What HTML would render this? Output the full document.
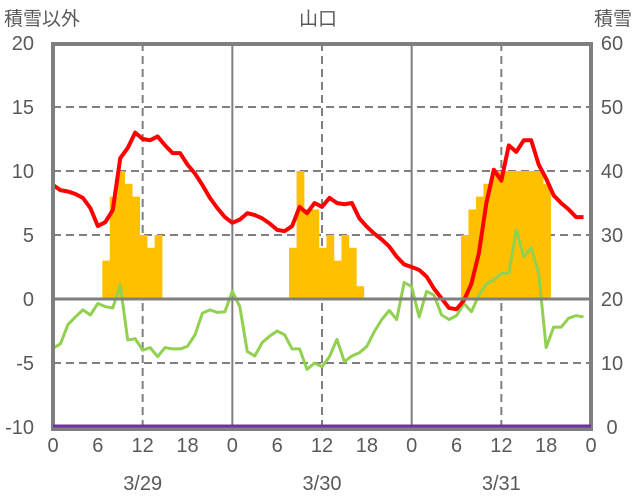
<!DOCTYPE html>
<html><head><meta charset="utf-8"><style>
body{margin:0;background:#fff;}
svg{display:block;font-family:"Liberation Sans","Noto Sans CJK JP",sans-serif;}
</style></head><body>
<svg id="chart" width="636" height="501" viewBox="0 0 636 501">
<g id="grid"></g><g id="bars"></g><g id="lines"></g><g id="frame"></g><g id="top"></g><g id="labels"></g>
</svg>
<script>
const hours = Array.from({length:72},(_,i)=>i);
const purpleHours = Array.from({length:73},(_,i)=>i);
const dayLabels = ["3/29","3/30","3/31"];
const hourTicks = ["0","6","12","18","0","6","12","18","0","6","12","18","0"];
const leftTicks = [20,15,10,5,0,-5,-10];
const rightTicks = [60,50,40,30,20,10,0];
const snowHours = [7,8,9,10,11,12,13,14,32,33,34,35,36,37,38,39,40,41,55,56,57,58,59,60,61,62,63,64,65,66];
const snowDepth = [26,36,40,38,36,30,28,30,28,40,34,34,28,30,26,30,28,22,30,34,36,38,40,40,40,40,40,40,40,38];
const redSeries = [8.9,8.5,8.4,8.2,7.9,7.1,5.7,6.0,6.95,11.0,11.8,13.0,12.5,12.4,12.7,12.0,11.4,11.4,10.5,9.8,8.9,7.9,7.1,6.4,
5.95,6.2,6.7,6.56,6.3,5.9,5.4,5.3,5.7,7.2,6.7,7.5,7.2,7.9,7.5,7.4,7.5,6.3,5.65,5.1,4.65,4.1,3.3,2.7,
2.5,2.27,1.75,0.8,0.05,-0.7,-0.8,-0.1,1.2,3.6,7.5,10.1,9.25,12.0,11.5,12.4,12.4,10.5,9.4,8.1,7.5,7.0,6.4,6.4];
const greenSeries = [-3.85,-3.5,-2.0,-1.4,-0.85,-1.25,-0.35,-0.6,-0.7,1.1,-3.2,-3.1,-4.0,-3.8,-4.5,-3.8,-3.9,-3.9,-3.7,-2.8,-1.1,-0.85,-1.05,-1.0,
0.6,-0.6,-4.1,-4.45,-3.4,-2.9,-2.5,-2.8,-3.9,-3.9,-5.5,-5.0,-5.3,-4.5,-3.15,-4.9,-4.45,-4.2,-3.7,-2.55,-1.6,-0.9,-1.6,1.3,
0.96,-1.4,0.6,0.3,-1.25,-1.6,-1.3,-0.35,-1.0,0.3,1.2,1.5,2.0,2.0,5.4,3.3,4.0,2.0,-3.8,-2.2,-2.2,-1.5,-1.3,-1.4];
const purpleSeries = purpleHours.map(()=>-10);

const X0=53,X1=591,Y0=43,Y1=427;
const xs=h=>X0+h*(X1-X0)/72;
const yL=v=>Y1-(v+10)*(Y1-Y0)/30;
const yR=v=>Y1-v*(Y1-Y0)/60;
const NS="http://www.w3.org/2000/svg";
function mk(tag,attrs,parent){const e=document.createElementNS(NS,tag);for(const k in attrs)e.setAttribute(k,attrs[k]);document.getElementById(parent).appendChild(e);return e;}
const gray="#7f7f7f", txt="#595959";
[15,10,5,-5].forEach(v=>{const l=mk("line",{x1:X0,x2:X1,y1:yL(v),y2:yL(v),stroke:gray,"stroke-width":2,"stroke-dasharray":"8,5"},"grid");

});
[12,36,60].forEach(h=>{const l=mk("line",{x1:xs(h),x2:xs(h),y1:Y0,y2:Y1,stroke:gray,"stroke-width":2,"stroke-dasharray":"8,5"},"grid");

});
[24,48].forEach(h=>{const l=mk("line",{x1:xs(h),x2:xs(h),y1:Y0,y2:Y1,stroke:gray,"stroke-width":2},"grid");

});
const bw=(X1-X0)/72;
snowHours.forEach((h,i)=>{const top=yR(snowDepth[i]),base=yR(20);
const r=mk("rect",{x:xs(h+0.1)-bw/2,y:top,width:bw+0.3,height:base-top,fill:"#ffc000"},"bars");

});
function line(data,hx,color,name,w,g,dy){const p=mk("polyline",{points:data.map((v,i)=>xs(hx[i])+","+(yL(v)+dy)).join(" "),fill:"none",stroke:color,"stroke-width":w,"stroke-linejoin":"round"},g);

}
line(greenSeries,hours,"#92d050","green-series-line",3,"lines",0);
line(redSeries,hours,"#ff0000","red-series-line",4,"lines",0);
const z=mk("line",{x1:X0,x2:X1,y1:yL(0),y2:yL(0),stroke:gray,"stroke-width":3},"frame");


const f=mk("rect",{x:X0,y:Y0+1,width:X1-X0,height:Y1-Y0+1,fill:"none",stroke:gray,"stroke-width":4},"frame");


line(purpleSeries,purpleHours,"#7030a0","purple-series-line",3,"top",-1);
function t(x,y,s,anchor,size,name){const e=mk("text",{x:x,y:y,"text-anchor":anchor,"font-size":size,fill:txt},"labels");e.textContent=s;

}
leftTicks.forEach(v=>t(34,yL(v)+7,String(v),"end",20,"left-tick-label"));
rightTicks.forEach(v=>t(612,yR(v)+7,String(v),"middle",20,"right-tick-label"));
hourTicks.forEach((s,i)=>t(xs(i*6),452,s,"middle",20,"hour-tick-label"));
dayLabels.forEach((s,i)=>t(xs(i*24+12),490,s,"middle",20,"date-label"));
t(4,25,"積雪以外","start",19,"left-axis-title");
t(632,25,"積雪","end",19,"right-axis-title");
t(318,25,"山口","middle",19,"chart-title");
</script>
</body></html>
